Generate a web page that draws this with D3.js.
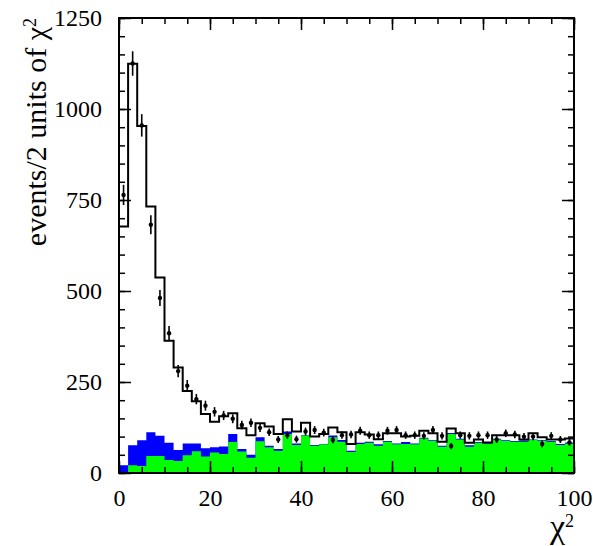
<!DOCTYPE html>
<html lang="en">
<head>
<meta charset="utf-8">
<title>chi2 distribution</title>
<script src="https://cdn.jsdelivr.net/npm/d3@7"></script>
<style>
  body { margin: 0; background: #fff; }
  #chart text { font-family: "Liberation Serif", "Times New Roman", Times, serif !important; fill: #000; }
</style>
</head>
<body>
<svg id="chart" width="593" height="546"></svg>
<script>
// 50 bins of width 2 in chi2, from 0 to 100
var binWidth = 2;
var xTicks = [0, 20, 40, 60, 80, 100];
var yTicks = [0, 250, 500, 750, 1000, 1250];

// total expectation (black histogram)
var mcTotal = [677, 1124, 953, 732, 537, 363, 290, 225, 197, 162,
               141, 156, 164, 123, 104, 137, 128, 107, 148, 114,
               138, 100, 107, 125, 112, 80, 112, 106, 93, 109,
               109, 100, 102, 116, 109, 86, 122, 109, 83, 92,
               84, 104, 104, 104, 92, 109, 98, 92, 92, 95];

// data points (error = sqrt(N))
var dataPts = [764, 1125, 955, 682, 481, 384, 280, 240, 203, 185,
               168, 158, 149, 132, 138, 124, 112, 92, 104, 93,
               114, 118, 111, 91, 104, 106, 116, 104, 104, 116,
               118, 104, 104, 102, 118, 102, 74, 104, 102, 104,
               104, 92, 109, 106, 100, 100, 80, 102, 92, 84];

// blue (stacked total of backgrounds)
var blueBkg = [21, 76, 90, 112, 102, 83, 63, 81, 81, 68,
               71, 73, 107, 66, 50, 98, 75, 66, 114, 81,
               104, 77, 80, 103, 91, 61, 83, 86, 79, 88,
               81, 85, 81, 97, 90, 75, 110, 94, 76, 85,
               82, 94, 90, 88, 89, 92, 90, 88, 80, 84];

// green background
var greenBkg = [0, 21, 19, 47, 47, 36, 33, 49, 60, 45,
                56, 52, 85, 59, 42, 87, 71, 61, 107, 77,
                103, 75, 79, 98, 86, 58, 80, 83, 75, 86,
                79, 80, 79, 95, 88, 72, 107, 92, 72, 83,
                80, 92, 88, 86, 86, 91, 88, 86, 77, 81];

var svg = d3.select("#chart");
var margin = {top: 18, right: 19, bottom: 73, left: 119};
var W = 593 - margin.left - margin.right,
    H = 546 - margin.top - margin.bottom;

var x = d3.scaleLinear().domain([0, 100]).range([0, W]);
var y = d3.scaleLinear().domain([0, 1250]).range([H, 0]);

var g = svg.append("g").attr("transform", "translate(" + margin.left + "," + margin.top + ")");

// turn bin values into step points (left edge of each bin + closing point)
function steps(vals) {
  var pts = vals.map(function(v, i) { return {x: i * binWidth, v: v}; });
  pts.push({x: vals.length * binWidth, v: vals[vals.length - 1]});
  return pts;
}

var area = d3.area()
    .curve(d3.curveStepAfter)
    .x(function(d) { return x(d.x); })
    .y0(y(0))
    .y1(function(d) { return y(d.v); });

var line = d3.line()
    .curve(d3.curveStepAfter)
    .x(function(d) { return x(d.x); })
    .y(function(d) { return y(d.v); });

g.append("path").datum(steps(blueBkg)).attr("d", area).attr("fill", "#0000ff");
g.append("path").datum(steps(greenBkg)).attr("d", area).attr("fill", "#00ff00");
g.append("path").datum(steps(mcTotal)).attr("d", line)
    .attr("fill", "none").attr("stroke", "#000").attr("stroke-width", 2);

// data points with error bars
var pts = g.append("g").selectAll("g").data(dataPts).enter().append("g");
pts.append("line")
    .attr("x1", function(d, i) { return x((i + 0.5) * binWidth); })
    .attr("x2", function(d, i) { return x((i + 0.5) * binWidth); })
    .attr("y1", function(d) { return y(d + Math.sqrt(d)); })
    .attr("y2", function(d) { return y(d - Math.sqrt(d)); })
    .attr("stroke", "#000").attr("stroke-width", 1.6);
pts.append("circle")
    .attr("cx", function(d, i) { return x((i + 0.5) * binWidth); })
    .attr("cy", function(d) { return y(d); })
    .attr("r", 2.2).attr("fill", "#000");

// axes: inward ticks on all four sides
function style(sel) {
  sel.attr("font-family", null);
  sel.select(".domain").remove();
  sel.selectAll(".tick line").attr("stroke", "#000").attr("stroke-width", 1.5);
  sel.selectAll(".tick text").style("font-size", "24px");
}
var xMinor = d3.range(0, 101, 5), yMinor = d3.range(0, 1251, 50);

g.append("g").attr("transform", "translate(0," + H + ")")
  .call(d3.axisBottom(x).tickValues(xMinor).tickSize(-6).tickFormat("")).call(style);
g.append("g").attr("transform", "translate(0," + H + ")")
  .call(d3.axisBottom(x).tickValues(xTicks).tickSize(-12).tickPadding(16).tickFormat(d3.format("d"))).call(style);
g.append("g")
  .call(d3.axisTop(x).tickValues(xMinor).tickSize(-6).tickFormat("")).call(style);
g.append("g")
  .call(d3.axisTop(x).tickValues(xTicks).tickSize(-12).tickFormat("")).call(style);

g.append("g")
  .call(d3.axisLeft(y).tickValues(yMinor).tickSize(-6).tickFormat("")).call(style);
g.append("g")
  .call(d3.axisLeft(y).tickValues(yTicks).tickSize(-12).tickPadding(17).tickFormat(d3.format("d"))).call(style);
g.append("g").attr("transform", "translate(" + W + ",0)")
  .call(d3.axisRight(y).tickValues(yMinor).tickSize(-6).tickFormat("")).call(style);
g.append("g").attr("transform", "translate(" + W + ",0)")
  .call(d3.axisRight(y).tickValues(yTicks).tickSize(-12).tickFormat("")).call(style);

g.append("rect").attr("width", W).attr("height", H)
    .attr("fill", "none").attr("stroke", "#000").attr("stroke-width", 2);

// axis titles
var yt = svg.append("text")
    .attr("transform", "translate(46," + margin.top + ") rotate(-90)")
    .attr("text-anchor", "end")
    .style("font-size", "30px");
yt.append("tspan").text("events/2 units of \u03c7");
yt.append("tspan").attr("dy", "-0.55em").style("font-size", "18px").text("2");

var xt = svg.append("text")
    .attr("x", margin.left + W)
    .attr("y", 538)
    .attr("text-anchor", "end")
    .style("font-size", "34px");
xt.append("tspan").text("\u03c7");
xt.append("tspan").attr("dy", "-0.6em").style("font-size", "18px").text("2");
</script>
</body>
</html>
